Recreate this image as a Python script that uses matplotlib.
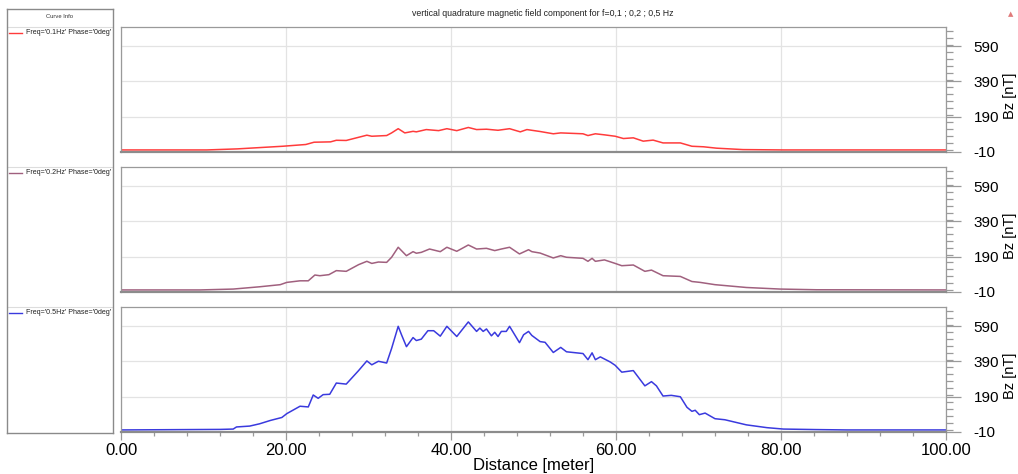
import numpy as np
import matplotlib.pyplot as plt
from matplotlib.ticker import MultipleLocator, FixedLocator

plt.rcParams['axes.unicode_minus'] = False

# -----------------------------
# Data
# -----------------------------
dist_01 = [0, 10.4, 14.1, 19.6, 22.4, 23.4, 25.4, 26.1, 27.3, 28.8, 29.8, 30.4, 32.2,
           32.8, 33.6, 34.4, 35.4, 35.8, 37.0, 38.5, 39.5, 40.7, 42.1, 43.1, 44.3,
           45.7, 47.1, 48.4, 49.2, 50.8, 52.4, 53.3, 56.0, 56.6, 57.5, 58.6, 59.9,
           60.9, 62.1, 63.3, 64.5, 65.7, 67.8, 69.2, 70.6, 72.2, 75.4, 80.3, 100]
bz_01 = [0, 0, 6, 21, 31, 44, 46, 55, 54, 72, 84, 78, 82,
         97, 121, 97, 106, 103, 116, 110, 121, 110, 128, 116, 118,
         112, 121, 103, 116, 105, 92, 97, 92, 82, 92, 86, 78,
         65, 69, 50, 56, 40, 40, 21, 18, 10, 2, 0, 0]

dist_02 = [0, 9.6, 13.6, 16.8, 19.3, 20.1, 21.7, 22.7, 23.5, 24.1, 25.2, 26.1, 27.3,
           28.8, 29.8, 30.4, 31.2, 32.2, 32.8, 33.6, 34.6, 35.4, 35.8, 36.4, 37.4,
           38.7, 39.5, 40.7, 42.1, 43.1, 44.3, 45.3, 46.1, 47.1, 48.3, 49.4, 49.8,
           50.8, 52.4, 53.3, 54.0, 56.0, 56.6, 57.1, 57.5, 58.6, 59.9, 60.7, 62.1,
           63.5, 64.3, 65.7, 67.8, 69.2, 70.2, 72.0, 75.8, 79.9, 84.3, 100]
bz_02 = [0, 0, 5, 18, 30, 43, 52, 52, 85, 81, 87, 110, 106,
         144, 163, 151, 159, 157, 186, 243, 195, 218, 209, 214, 233,
         218, 243, 220, 256, 233, 237, 224, 233, 243, 205, 229, 218,
         210, 182, 195, 186, 180, 163, 180, 163, 171, 151, 138, 142,
         106, 113, 81, 77, 48, 43, 30, 14, 5, 1, 0]

dist_05 = [0, 8, 12, 13.6, 14.0, 15.6, 16.8, 18.1, 19.5, 20.1, 21.7, 22.7, 23.3, 23.9,
           24.5, 25.3, 26.1, 27.3, 28.8, 29.8, 30.4, 31.2, 32.2, 32.8, 33.6, 34.0,
           34.6, 35.4, 35.8, 36.4, 37.2, 37.9, 38.7, 39.5, 40.7, 42.1, 43.1, 43.5,
           43.9, 44.3, 44.9, 45.3, 45.7, 46.1, 46.7, 47.1, 48.3, 48.8, 49.4, 49.8,
           50.8, 51.4, 52.4, 53.3, 54.0, 56.0, 56.6, 57.1, 57.5, 58.1, 59.3, 59.9,
           60.7, 62.1, 63.5, 64.3, 64.9, 65.7, 66.7, 67.8, 68.6, 69.2, 69.6, 70.1,
           70.8, 72.0, 73.2, 75.8, 78.3, 80.3, 84.3, 88, 100]
bz_05 = [0, 2, 3, 5, 17, 22, 35, 54, 71, 93, 135, 131, 199, 180,
         201, 203, 267, 261, 338, 393, 371, 391, 381, 464, 590, 542,
         474, 526, 509, 517, 565, 565, 534, 590, 532, 615, 561, 580,
         561, 575, 536, 556, 532, 561, 561, 590, 497, 542, 561, 538,
         503, 499, 441, 470, 445, 435, 400, 439, 400, 416, 387, 368,
         329, 338, 251, 275, 251, 193, 197, 189, 129, 106, 112, 87,
         96, 64, 58, 29, 13, 5, 2, 0, 0]

labels = ["Freq='0.1Hz' Phase='0deg'", "Freq='0.2Hz' Phase='0deg'", "Freq='0.5Hz' Phase='0deg'"]
colors = ['#ff3b3b', '#a0607e', '#3a3ade']
series = [(dist_01, bz_01), (dist_02, bz_02), (dist_05, bz_05)]
y_ticks = [-10, 190, 390, 590]
x_ticks = [0, 20, 40, 60, 80, 100]

# -----------------------------
# Figure layout (pixel based)
# -----------------------------
W, H = 1018, 474
fig = plt.figure(figsize=(W / 100, H / 100), dpi=100)

def px_axes(x0, y0, x1, y1):
    return fig.add_axes([x0 / W, 1 - y1 / H, (x1 - x0) / W, (y1 - y0) / H])

narrow = ['Liberation Sans Narrow', 'Liberation Sans', 'DejaVu Sans']
regular = ['Liberation Sans', 'DejaVu Sans']

# Legend panel on the left
leg = px_axes(7, 9, 113, 433)
leg.set_xlim(0, 106)
leg.set_ylim(424, 0)
leg.set_xticks([])
leg.set_yticks([])
for s in leg.spines.values():
    s.set_color('#8a8a8a')
    s.set_linewidth(1.0)
leg.text(53, 8, 'Curve Info', ha='center', va='center', fontsize=4.2, family=regular, color='#333333')

panel_tops = [27, 167, 307]
panel_h = 124.7
for i, (lab, col) in enumerate(zip(labels, colors)):
    ytop = panel_tops[i] - 9
    leg.plot([0, 106], [ytop, ytop], color='#dddddd', lw=0.8)
    leg.plot([2, 15], [ytop + 6, ytop + 6], color=col, lw=1.0)
    leg.text(19, ytop + 6, lab, ha='left', va='center', fontsize=5.1, family=regular, color='#222222')

# Data panels
for i, ((d, b), col) in enumerate(zip(series, colors)):
    y0 = panel_tops[i]
    ax = px_axes(121, y0, 946, y0 + panel_h)
    ax.plot(d, b, color=col, lw=1.1)
    ax.set_xlim(0, 100)
    ax.set_ylim(-10, 700)

    ax.yaxis.tick_right()
    ax.yaxis.set_major_locator(FixedLocator(y_ticks))
    ax.yaxis.set_minor_locator(MultipleLocator(40))
    ax.tick_params(axis='y', which='major', length=11, width=0.9, color='#9a9a9a',
                   pad=9, labelsize=11)
    ax.tick_params(axis='y', which='minor', length=5, width=0.9, color='#9a9a9a')
    for t in ax.get_yticklabels():
        t.set_family(regular)
    ax.set_ylabel('Bz [nT]', fontsize=10.5, family=regular, rotation=90)
    ax.yaxis.label.set_va('center')
    ax.yaxis.label.set_ha('center')
    ax.yaxis.set_label_coords(1.077, 0.45)

    ax.xaxis.set_major_locator(FixedLocator(x_ticks))
    ax.xaxis.set_minor_locator(MultipleLocator(4))
    ax.grid(True, which='major', color='#e3e3e3', lw=0.9)
    ax.set_axisbelow(True)

    for name, s in ax.spines.items():
        s.set_color('#9a9a9a')
        s.set_linewidth(0.9)
    ax.spines['bottom'].set_color('#8c8c8c')
    ax.spines['bottom'].set_linewidth(1.6)

    if i < 2:
        ax.tick_params(axis='x', which='both', length=0, labelbottom=False)
    else:
        ax.tick_params(axis='x', which='major', length=6, width=0.9, color='#9a9a9a',
                       pad=2, labelsize=12)
        ax.tick_params(axis='x', which='minor', length=3, width=0.9, color='#9a9a9a')
        ax.set_xticklabels(['%.2f' % v for v in x_ticks])
        for t in ax.get_xticklabels():
            t.set_family(narrow)
        ax.set_xlabel('Distance [meter]', fontsize=12, family=narrow, labelpad=0)

# Title and corner marker
fig.text(543 / W, 1 - 13 / H, 'vertical quadrature magnetic field component for f=0,1 ; 0,2 ; 0,5 Hz',
         ha='center', va='center', fontsize=6.3, family=narrow, color='#222222')
fig.text(1011 / W, 1 - 14 / H, '▲', ha='center', va='center', fontsize=5, color='#e07a7a')

fig.savefig('out.png', dpi=100)
